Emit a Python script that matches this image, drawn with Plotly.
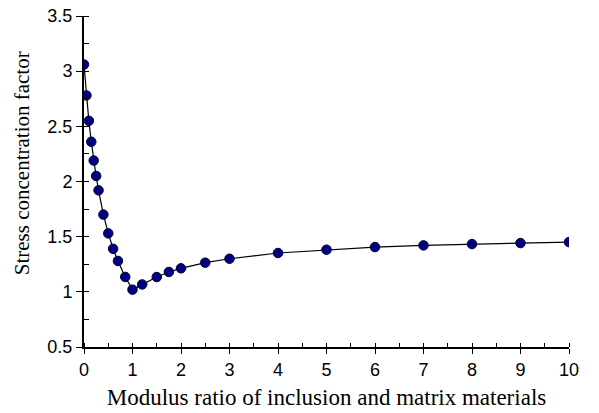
import plotly.graph_objects as go

modulus_ratio = [0, 0.05, 0.1, 0.15, 0.2, 0.25, 0.3, 0.4, 0.5, 0.6, 0.7, 0.85,
                 1.0, 1.2, 1.5, 1.75, 2, 2.5, 3, 4, 5, 6, 7, 8, 9, 10]
stress_factor = [3.06, 2.78, 2.55, 2.36, 2.19, 2.05, 1.92, 1.70, 1.53, 1.39, 1.28, 1.135,
                 1.02, 1.067, 1.134, 1.18, 1.213, 1.264, 1.30, 1.352, 1.382, 1.406, 1.421, 1.433, 1.442, 1.451]

x_ticks = list(range(0, 11))
y_ticks = [0.5, 1, 1.5, 2, 2.5, 3, 3.5]
y_tick_text = ["0.5", "1", "1.5", "2", "2.5", "3", "3.5"]

fig = go.Figure()
fig.add_trace(go.Scatter(
    x=modulus_ratio, y=stress_factor, mode="lines+markers",
    line=dict(color="black", width=1.2),
    marker=dict(size=9.5, color="#000080", line=dict(color="#000030", width=1)),
    showlegend=False,
))

tick_font = dict(family="Liberation Sans, Arial", size=18, color="black")
title_font = dict(family="Liberation Serif, Times New Roman", size=23, color="black")

fig.update_layout(
    width=599, height=413,
    margin=dict(l=84, r=30, t=16, b=66),
    paper_bgcolor="white", plot_bgcolor="white",
    xaxis=dict(
        range=[0, 10], tickvals=x_ticks, ticks="outside", ticklen=5, tickwidth=1,
        tickcolor="black", showline=True, linecolor="black", linewidth=2,
        showgrid=False, zeroline=False, tickfont=tick_font, automargin=False,
        minor=dict(dtick=0.5, ticks="inside", ticklen=4, tickcolor="black", tickwidth=1, showgrid=False),
        title=dict(text="Modulus ratio of inclusion and matrix materials", font=title_font, standoff=10),
    ),
    yaxis=dict(
        range=[0.5, 3.5], tickvals=y_ticks, ticktext=y_tick_text, ticks="outside", ticklen=6, tickwidth=1,
        tickcolor="black", showline=True, linecolor="black", linewidth=2,
        showgrid=False, zeroline=False, tickfont=tick_font, automargin=False,
        minor=dict(dtick=0.25, ticks="inside", ticklen=5, tickcolor="black", tickwidth=1, showgrid=False),
    ),
)

fig.add_annotation(
    text="Stress concentration factor", textangle=-90, showarrow=False,
    xref="paper", yref="paper", x=-0.128, y=0.555, xanchor="center", yanchor="middle",
    font=dict(family="Liberation Serif, Times New Roman", size=21, color="black"),
)

fig.write_html("out.html")
